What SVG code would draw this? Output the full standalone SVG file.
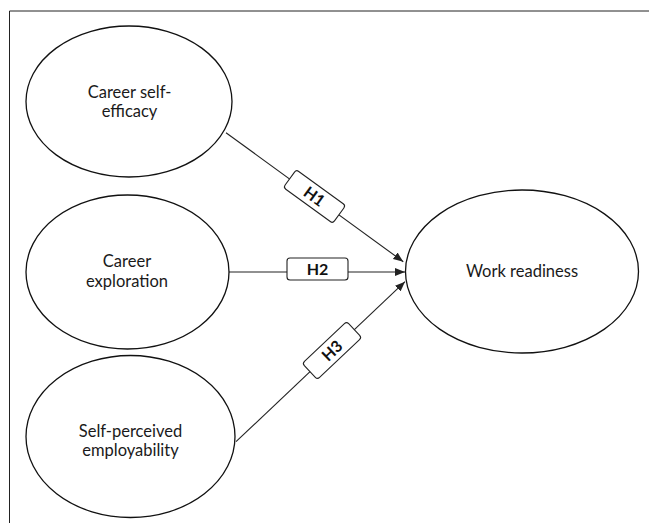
<svg xmlns="http://www.w3.org/2000/svg" width="649" height="523" viewBox="0 0 649 523">
<style>
.node{fill:#fff;stroke:#111;stroke-width:1.3}
.lbl{font-family:Lato,"Liberation Sans",sans-serif;font-size:16.5px;fill:#1a1a1a;text-anchor:middle}
.conn{stroke:#222;stroke-width:1.1;fill:none}
.hbox{fill:#fff;stroke:#222;stroke-width:1.1}
.h{font-family:Lato,"Liberation Sans",sans-serif;font-weight:bold;font-size:16px;fill:#111;text-anchor:middle}
</style>
<defs>
<marker id="arr" viewBox="0 0 10 10" refX="10" refY="5" markerWidth="10" markerHeight="10" markerUnits="userSpaceOnUse" orient="auto">
<path d="M0,1 L10,5 L0,9 z" fill="#222"/>
</marker>
</defs>
<rect width="649" height="523" fill="#fff"/>
<path d="M9.5,523 V11 H649" fill="none" stroke="#222" stroke-width="1"/>
<g id="connectors">
<line class="conn" x1="226" y1="132.7" x2="403.3" y2="261.7" marker-end="url(#arr)"/>
<line class="conn" x1="229" y1="272" x2="405" y2="272" marker-end="url(#arr)"/>
<line class="conn" x1="236" y1="441.7" x2="405" y2="281.7" marker-end="url(#arr)"/>
<g transform="translate(314.5,196.5) rotate(36)">
<rect class="hbox" x="-30.5" y="-11" width="61" height="22" rx="3"/>
<text class="h" x="0" y="5.8">H1</text>
</g>
<g transform="translate(317.5,269)">
<rect class="hbox" x="-30.5" y="-11" width="61" height="22" rx="3"/>
<text class="h" x="0" y="5.8">H2</text>
</g>
<g transform="translate(332,350.5) rotate(-43.4)">
<rect class="hbox" x="-30.5" y="-11" width="61" height="22" rx="3"/>
<text class="h" x="0" y="5.8">H3</text>
</g>
</g>
<g id="career-self-efficacy">
<ellipse class="node" cx="129" cy="101.5" rx="103" ry="75.5"/>
<text class="lbl" x="129.5" y="98">Career self-</text>
<text class="lbl" x="129.5" y="117">efficacy</text>
</g>
<g id="career-exploration">
<ellipse class="node" cx="127.5" cy="272" rx="101.5" ry="77"/>
<text class="lbl" x="127" y="266.5">Career</text>
<text class="lbl" x="127" y="286.5">exploration</text>
</g>
<g id="self-perceived-employability">
<ellipse class="node" cx="130.5" cy="436.5" rx="104.5" ry="81"/>
<text class="lbl" x="130.5" y="437">Self-perceived</text>
<text class="lbl" x="130.5" y="456">employability</text>
</g>
<g id="work-readiness">
<ellipse class="node" cx="522" cy="271.5" rx="116.5" ry="81.5"/>
<text class="lbl" x="522" y="277">Work readiness</text>
</g>
</svg>
